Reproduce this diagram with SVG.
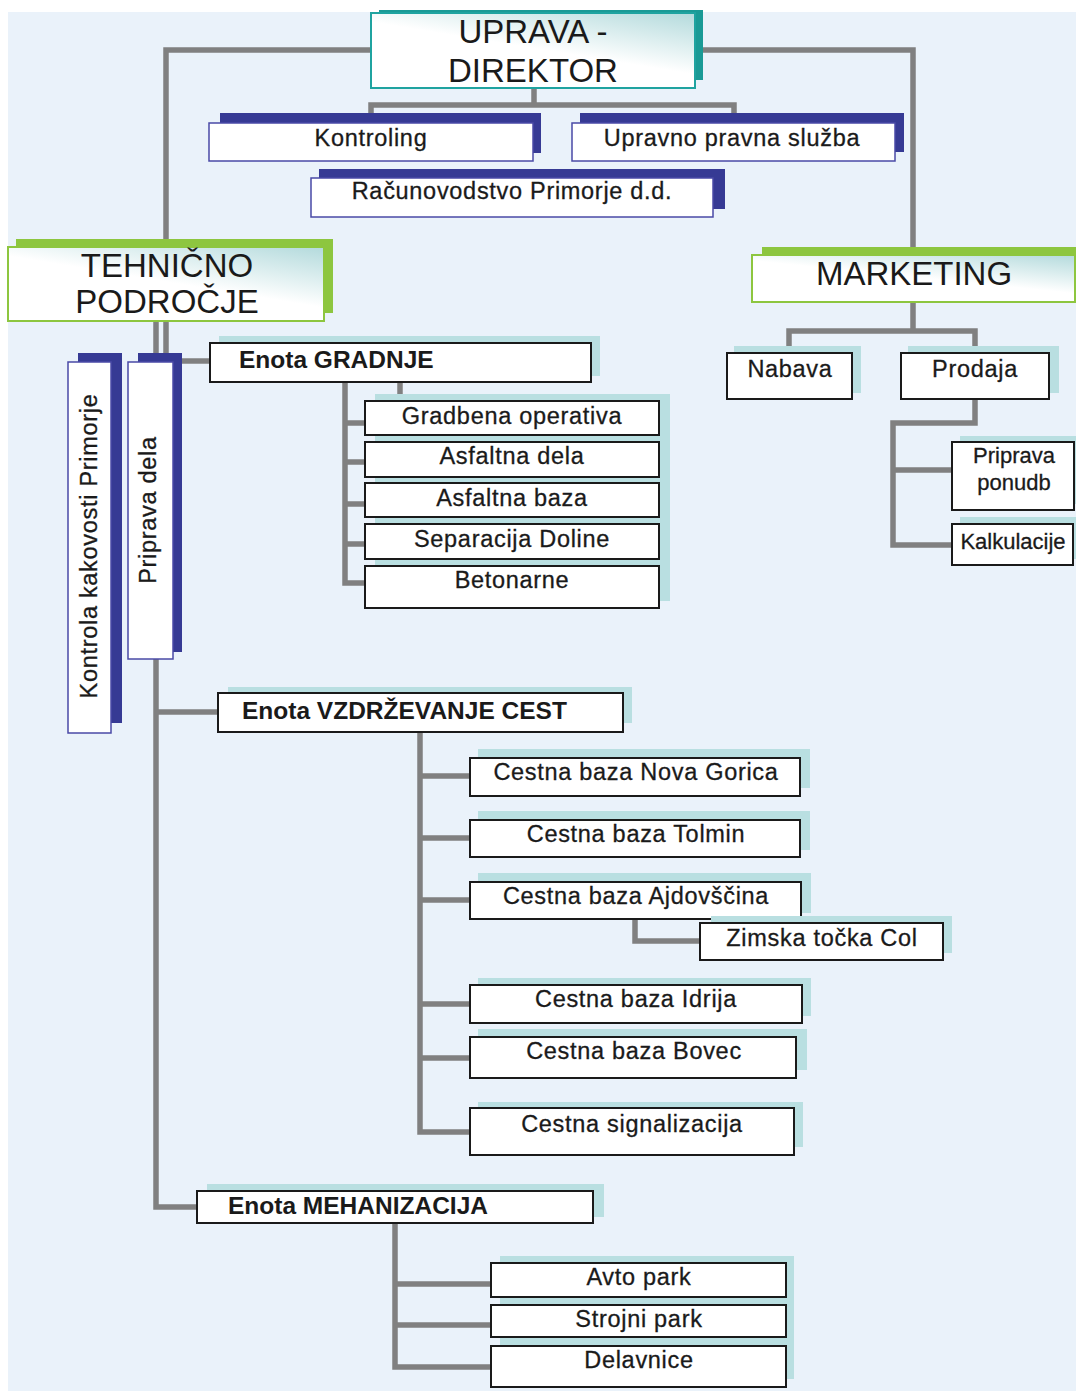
<svg xmlns="http://www.w3.org/2000/svg" width="1076" height="1391" viewBox="0 0 1076 1391">
<defs>
<linearGradient id="hg" x1="0.3" y1="1" x2="1" y2="0">
<stop offset="0" stop-color="#ffffff"/>
<stop offset="0.45" stop-color="#ffffff"/>
<stop offset="1" stop-color="#b3dadc"/>
</linearGradient>
<style>
text{font-family:"Liberation Sans",Arial,sans-serif;fill:#1a1a1a}
.big{font-size:33px;text-anchor:middle}
.t{font-size:23.5px;letter-spacing:0.7px;text-anchor:middle;stroke:#1a1a1a;stroke-width:0.3px}
.ts{font-size:22px;text-anchor:middle;stroke:#1a1a1a;stroke-width:0.3px}
.b{font-size:24.5px;font-weight:bold}
.con{fill:none;stroke:#808080;stroke-width:5.5}
.nsh{fill:#363a94}
.nbox{fill:#fff;stroke:#4a4aa6;stroke-width:1.5}
.gsh{fill:#8dc63f}
.gbox{fill:url(#hg);stroke:#8dc63f;stroke-width:2}
.lsh{fill:#b9dfe1}
.box{fill:#fff;stroke:#1a1a1a;stroke-width:2}
</style>
</defs>
<rect x="8" y="12" width="1068" height="1379" fill="#eaf2fa"/>
<g id="connectors">
<path class="con" d="M371 50 H166 V353"/>
<path class="con" d="M695 50 H913 V255"/>
<path class="con" d="M534 88 V105 M371 118 V105 H734 V115"/>
<path class="con" d="M913 302 V331 M789 352 V331 H975 V352"/>
<path class="con" d="M975 399 V423 H893 V545 H953 M893 470 H953"/>
<path class="con" d="M156 321 V1207 H197"/>
<path class="con" d="M182 361 H210"/>
<path class="con" d="M400 383 V394"/>
<path class="con" d="M345 383 V583 H365 M345 423 H365 M345 462 H365 M345 504 H365 M345 544 H365"/>
<path class="con" d="M156 712 H218"/>
<path class="con" d="M420 732 V1132 H470 M420 776 H470 M420 838 H470 M420 900 H470 M420 1004 H470 M420 1058 H470"/>
<path class="con" d="M635 919 V941 H700"/>
<path class="con" d="M395 1223 V1367 H491 M395 1284 H491 M395 1325 H491"/>
</g>
<g id="uprava">
<rect x="379" y="10" width="324" height="70" fill="#1a9a96"/>
<rect x="371" y="13" width="324" height="75" fill="url(#hg)" stroke="#1fa3a0" stroke-width="2"/>
<text class="big" x="533" y="43">UPRAVA -</text>
<text class="big" x="533" y="82">DIREKTOR</text>
</g>
<g id="kontroling">
<rect class="nsh" x="220" y="113" width="321" height="40"/>
<rect class="nbox" x="209" y="123" width="324" height="38"/>
<text class="t" x="371" y="146">Kontroling</text>
</g>
<g id="upravno">
<rect class="nsh" x="580" y="113" width="324" height="39"/>
<rect class="nbox" x="572" y="123" width="323" height="38"/>
<text class="t" x="732" y="146">Upravno pravna služba</text>
</g>
<g id="racunovodstvo">
<rect class="nsh" x="319" y="169" width="406" height="40"/>
<rect class="nbox" x="311" y="178" width="402" height="39"/>
<text class="t" x="512" y="199">Računovodstvo Primorje d.d.</text>
</g>
<g id="tehnicno">
<rect class="gsh" x="16" y="239" width="317" height="74"/>
<rect class="gbox" x="8" y="247" width="316" height="74"/>
<text class="big" x="167" y="277">TEHNIČNO</text>
<text class="big" x="167" y="313">PODROČJE</text>
</g>
<g id="marketing">
<rect class="gsh" x="762" y="247" width="316" height="47"/>
<rect class="gbox" x="752" y="255" width="323" height="47"/>
<text class="big" x="914" y="285">MARKETING</text>
</g>
<g id="nabava">
<rect class="lsh" x="734" y="346" width="127" height="47"/>
<rect class="box" x="727" y="353" width="125" height="46"/>
<text class="t" x="790" y="377">Nabava</text>
</g>
<g id="prodaja">
<rect class="lsh" x="908" y="346" width="151" height="47"/>
<rect class="box" x="901" y="353" width="148" height="46"/>
<text class="t" x="975" y="377">Prodaja</text>
</g>
<g id="priprava-ponudb">
<rect class="lsh" x="960" y="436" width="120" height="68"/>
<rect class="box" x="952" y="442" width="122" height="68"/>
<text class="ts" x="1014" y="463">Priprava</text>
<text class="ts" x="1014" y="490">ponudb</text>
</g>
<g id="kalkulacije">
<rect class="lsh" x="960" y="517" width="120" height="42"/>
<rect class="box" x="952" y="524" width="121" height="41"/>
<text class="ts" x="1013" y="549">Kalkulacije</text>
</g>
<g id="kontrola">
<rect class="nsh" x="78" y="353" width="44" height="370"/>
<rect class="nbox" x="68" y="362" width="43" height="371"/>
<text class="t" transform="translate(97,546) rotate(-90)">Kontrola kakovosti Primorje</text>
</g>
<g id="priprava-dela">
<rect class="nsh" x="138" y="353" width="44" height="299"/>
<rect class="nbox" x="128" y="362" width="45" height="297"/>
<text class="t" transform="translate(156,510) rotate(-90)">Priprava dela</text>
</g>
<g id="enota-gradnje">
<rect class="lsh" x="219" y="336" width="381" height="40"/>
<rect class="box" x="210" y="343" width="381" height="39"/>
<text class="b" x="239" y="368">Enota GRADNJE</text>
</g>
<g id="gradnje-children">
<rect class="lsh" x="375" y="394" width="295" height="207"/>
<g id="gradbena"><rect class="box" x="365" y="401" width="294" height="34"/><text class="t" x="512" y="424">Gradbena operativa</text></g>
<g id="asfaltna-dela"><rect class="box" x="365" y="442" width="294" height="35"/><text class="t" x="512" y="464">Asfaltna dela</text></g>
<g id="asfaltna-baza"><rect class="box" x="365" y="483" width="294" height="34"/><text class="t" x="512" y="506">Asfaltna baza</text></g>
<g id="separacija"><rect class="box" x="365" y="524" width="294" height="35"/><text class="t" x="512" y="547">Separacija Doline</text></g>
<g id="betonarne"><rect class="box" x="365" y="566" width="294" height="42"/><text class="t" x="512" y="588">Betonarne</text></g>
</g>
<g id="enota-vzdrzevanje">
<rect class="lsh" x="228" y="687" width="404" height="36"/>
<rect class="box" x="218" y="693" width="405" height="39"/>
<text class="b" x="242" y="719">Enota VZDRŽEVANJE CEST</text>
</g>
<g id="nova-gorica">
<rect class="lsh" x="478" y="749" width="332" height="39"/>
<rect class="box" x="470" y="758" width="330" height="38"/>
<text class="t" x="636" y="780">Cestna baza Nova Gorica</text>
</g>
<g id="tolmin">
<rect class="lsh" x="478" y="811" width="332" height="39"/>
<rect class="box" x="470" y="820" width="330" height="37"/>
<text class="t" x="636" y="842">Cestna baza Tolmin</text>
</g>
<g id="ajdovscina">
<rect class="lsh" x="478" y="873" width="333" height="40"/>
<rect class="box" x="470" y="882" width="331" height="37"/>
<text class="t" x="636" y="904">Cestna baza Ajdovščina</text>
</g>
<g id="zimska">
<rect class="lsh" x="711" y="916" width="241" height="37"/>
<rect class="box" x="700" y="923" width="243" height="37"/>
<text class="t" x="822" y="946">Zimska točka Col</text>
</g>
<g id="idrija">
<rect class="lsh" x="478" y="978" width="333" height="38"/>
<rect class="box" x="470" y="985" width="332" height="38"/>
<text class="t" x="636" y="1007">Cestna baza Idrija</text>
</g>
<g id="bovec">
<rect class="lsh" x="478" y="1029" width="329" height="41"/>
<rect class="box" x="470" y="1037" width="326" height="41"/>
<text class="t" x="634" y="1059">Cestna baza Bovec</text>
</g>
<g id="signalizacija">
<rect class="lsh" x="478" y="1102" width="325" height="45"/>
<rect class="box" x="470" y="1108" width="324" height="47"/>
<text class="t" x="632" y="1132">Cestna signalizacija</text>
</g>
<g id="enota-mehanizacija">
<rect class="lsh" x="207" y="1184" width="397" height="33"/>
<rect class="box" x="197" y="1191" width="396" height="32"/>
<text class="b" x="228" y="1214">Enota MEHANIZACIJA</text>
</g>
<g id="mehanizacija-children">
<rect class="lsh" x="500" y="1256" width="294" height="123"/>
<g id="avto-park"><rect class="box" x="491" y="1263" width="295" height="34"/><text class="t" x="639" y="1285">Avto park</text></g>
<g id="strojni-park"><rect class="box" x="491" y="1305" width="295" height="32"/><text class="t" x="639" y="1327">Strojni park</text></g>
<g id="delavnice"><rect class="box" x="491" y="1346" width="295" height="41"/><text class="t" x="639" y="1368">Delavnice</text></g>
</g>
</svg>
